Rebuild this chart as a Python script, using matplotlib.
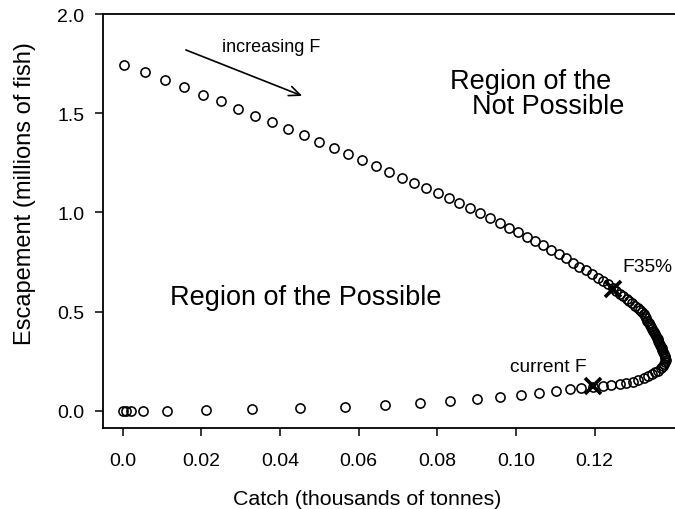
import matplotlib
matplotlib.use("Agg")
import matplotlib.pyplot as plt

plt.rcParams['font.family'] = ['Liberation Sans', 'DejaVu Sans']

# Catch (thousands of tonnes) and escapement (millions of fish), in order of increasing F
catch = [0.0003, 0.0057, 0.0107, 0.0156, 0.0203, 0.0250, 0.0294, 0.0337, 0.0379, 0.0421,
         0.0461, 0.0500, 0.0538, 0.0573, 0.0609, 0.0644, 0.0678, 0.0709, 0.0740, 0.0771,
         0.0801, 0.0829, 0.0855, 0.0883, 0.0908, 0.0933, 0.0959, 0.0982, 0.1005, 0.1027,
         0.1048, 0.1069, 0.1088, 0.1108, 0.1127, 0.1144, 0.1160, 0.1177, 0.1192, 0.1207,
         0.1221, 0.1234, 0.1246, 0.1255, 0.1265, 0.1273, 0.1281, 0.1288, 0.1295, 0.1302,
         0.1309, 0.1314, 0.1320, 0.1324, 0.1327, 0.1331, 0.1334, 0.1337, 0.1340, 0.1343,
         0.1345, 0.1348, 0.1351, 0.1353, 0.1356, 0.1358, 0.1361, 0.1362, 0.1364, 0.1366,
         0.1368, 0.1370, 0.1372, 0.1374, 0.1376, 0.1378, 0.1379, 0.1380, 0.1379, 0.1376,
         0.1373, 0.1368, 0.1361, 0.1354, 0.1345, 0.1335, 0.1324, 0.1311, 0.1296, 0.1280,
         0.1263, 0.1242, 0.1220, 0.1196, 0.1166, 0.1137, 0.1101, 0.1059, 0.1012, 0.0959,
         0.0900, 0.0832, 0.0756, 0.0667, 0.0565, 0.0451, 0.0330, 0.0211, 0.0113, 0.0051,
         0.0020, 0.0008, 0.0002]
escapement = [1.745, 1.706, 1.669, 1.631, 1.592, 1.559, 1.522, 1.487, 1.454, 1.421,
              1.389, 1.357, 1.327, 1.295, 1.265, 1.235, 1.203, 1.175, 1.149, 1.121,
              1.096, 1.070, 1.045, 1.020, 0.995, 0.970, 0.948, 0.923, 0.901, 0.878,
              0.856, 0.834, 0.810, 0.789, 0.768, 0.747, 0.727, 0.708, 0.691, 0.671,
              0.654, 0.641, 0.620, 0.605, 0.591, 0.577, 0.565, 0.553, 0.541, 0.530,
              0.519, 0.510, 0.500, 0.488, 0.476, 0.465, 0.453, 0.443, 0.433, 0.423,
              0.414, 0.404, 0.395, 0.386, 0.377, 0.369, 0.360, 0.351, 0.342, 0.332,
              0.323, 0.314, 0.304, 0.295, 0.286, 0.277, 0.268, 0.258, 0.247, 0.235,
              0.224, 0.213, 0.202, 0.193, 0.184, 0.174, 0.164, 0.156, 0.147, 0.141,
              0.135, 0.129, 0.124, 0.121, 0.117, 0.109, 0.101, 0.089, 0.079, 0.067,
              0.059, 0.047, 0.039, 0.029, 0.020, 0.012, 0.007, 0.002, 0.001, 0.000,
              0.000, 0.000, 0.000]

# Reference points
ref_names = ["F35%", "current F"]
ref_catch = [0.1247, 0.1196]
ref_escapement = [0.616, 0.126]

xticks = [0.0, 0.02, 0.04, 0.06, 0.08, 0.10, 0.12]
xticklabels = ["0.0", "0.02", "0.04", "0.06", "0.08", "0.10", "0.12"]
yticks = [0.0, 0.5, 1.0, 1.5, 2.0]
yticklabels = ["0.0", "0.5", "1.0", "1.5", "2.0"]

W, H = 675, 510
fig = plt.figure(figsize=(W / 100, H / 100), dpi=100)
ax = fig.add_axes([103 / W, (H - 429) / H, (W - 103) / W, (429 - 15) / H])

ax.plot(catch, escapement, linestyle='none', marker='o', markersize=6.6,
        markerfacecolor='none', markeredgecolor='black', markeredgewidth=1.15)
ax.plot(ref_catch, ref_escapement, linestyle='none', marker='x', markersize=11,
        markeredgecolor='black', markeredgewidth=2.6)

ax.set_xlim(-0.0050, 0.1404)
ax.set_ylim(-0.087, 1.9965)
ax.set_xticks(xticks)
ax.set_xticklabels(xticklabels)
ax.set_yticks(yticks)
ax.set_yticklabels(yticklabels)
ax.spines['right'].set_visible(False)
for s in ['left', 'top', 'bottom']:
    ax.spines[s].set_linewidth(1.3)
ax.tick_params(axis='both', direction='out', length=5.5, width=1.1, labelsize=14)
ax.tick_params(axis='x', pad=12)
ax.tick_params(axis='y', pad=8)

fig.text(367.5 / W, 1 - 500 / H, "Catch (thousands of tonnes)", ha='center', va='center', fontsize=15.4)
fig.text(25 / W, 1 - 194 / H, "Escapement (millions of fish)", ha='center', va='center',
         rotation=90, fontsize=17)

ax.text(0.0120, 0.572, "Region of the Possible", ha='left', va='center', fontsize=19.5)
ax.text(0.0832, 1.664, "Region of the", ha='left', va='center', fontsize=19.5)
ax.text(0.0888, 1.534, "Not Possible", ha='left', va='center', fontsize=19.5)

ax.text(0.0252, 1.835, "increasing F", ha='left', va='center', fontsize=13)
ax.annotate("", xy=(0.0463, 1.582), xytext=(0.0154, 1.824),
            arrowprops=dict(arrowstyle='->,head_length=0.8,head_width=0.35', color='black', lw=1.2))
ax.text(0.1271, 0.726, ref_names[0], ha='left', va='center', fontsize=13.8)
ax.text(0.0984, 0.225, ref_names[1], ha='left', va='center', fontsize=13.8)

fig.savefig("out.png", dpi=100)
